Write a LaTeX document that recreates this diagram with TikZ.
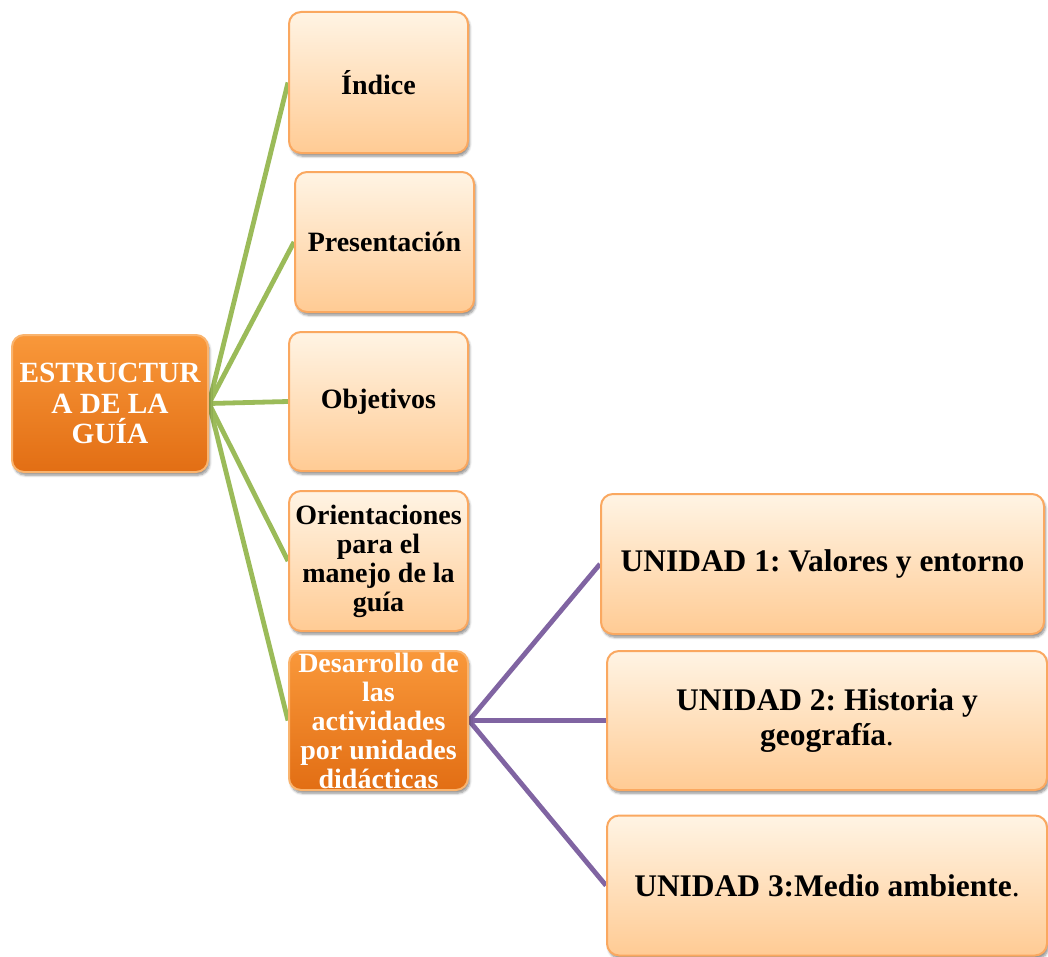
\documentclass[tikz,border=0pt]{standalone}
\usepackage{fontspec}
\setmainfont{Liberation Serif}
\frenchspacing
\usetikzlibrary{shadows.blur,backgrounds}
\definecolor{lighttop}{RGB}{255,244,228}
\definecolor{lightbot}{RGB}{255,203,148}
\definecolor{lightedge}{RGB}{250,168,96}
\definecolor{darktop}{RGB}{249,152,58}
\definecolor{darkbot}{RGB}{226,110,20}
\definecolor{darkedge}{RGB}{250,180,110}
\definecolor{greenline}{RGB}{155,187,89}
\definecolor{purpleline}{RGB}{128,100,162}
\tikzset{
  x=0.75pt, y=-0.75pt,
  basebox/.style={rectangle, rounded corners=9pt, line width=1.5pt, align=center, inner sep=0pt,
    blur shadow={shadow xshift=1.2pt, shadow yshift=-2.4pt, shadow blur steps=6, shadow opacity=45}},
  lightbox/.style={basebox, draw=lightedge, top color=lighttop, bottom color=lightbot, text=black},
  darkbox/.style={basebox, draw=darkedge, top color=darktop, bottom color=darkbot, text=white},
  bw/.style={minimum width=#1*0.75pt},
  bh/.style={minimum height=#1*0.75pt},
  smalltext/.style={font=\fontsize{21pt}{21.75pt}\selectfont\bfseries},
  roottext/.style={font=\fontsize{22pt}{22.9pt}\selectfont\bfseries},
  bigtext/.style={font=\fontsize{23.6pt}{26pt}\selectfont\bfseries},
  gline/.style={draw=greenline, line width=3.6pt},
  pline/.style={draw=purpleline, line width=3.6pt},
}
\begin{document}
\begin{tikzpicture}
\useasboundingbox (0,0) rectangle (1048,956);
\node[darkbox, roottext, bw=196, bh=137] (root) at (110,403.5) {ESTRUCTUR\\A DE LA\\GUÍA};
\node[lightbox, smalltext, bw=179, bh=141] (idx) at (378.5,82.5) {Índice};
\node[lightbox, smalltext, bw=179, bh=140] (pres) at (384.5,242) {Presentación};
\node[lightbox, smalltext, bw=179, bh=139] (obj) at (378.5,401.5) {Objetivos};
\node[lightbox, smalltext, bw=179, bh=140] (ori) at (378.5,561) {Orientaciones\\para el\\manejo de la\\guía};
\node[darkbox, smalltext, bw=179, bh=139] (des) at (378.5,720.5) {Desarrollo de\\las\\actividades\\por unidades\\didácticas};
\node[lightbox, bigtext, bw=443, bh=140] (u1) at (822.5,564) {UNIDAD 1: Valores y entorno};
\node[lightbox, bigtext, bw=440, bh=139] (u2) at (827,720.5) {UNIDAD 2: Historia y\\geografía\textmd{.}};
\node[lightbox, bigtext, bw=440, bh=140] (u3) at (827,885.5) {UNIDAD 3:Medio ambiente\textmd{.}};
\begin{pgfonlayer}{background}
\draw[gline] (root.east) -- (idx.west);
\draw[gline] (root.east) -- (pres.west);
\draw[gline] (root.east) -- (obj.west);
\draw[gline] (root.east) -- (ori.west);
\draw[gline] (root.east) -- (des.west);
\draw[pline] (des.east) -- (u1.west);
\draw[pline] (des.east) -- (u2.west);
\draw[pline] (des.east) -- (u3.west);
\end{pgfonlayer}
\end{tikzpicture}
\end{document}
